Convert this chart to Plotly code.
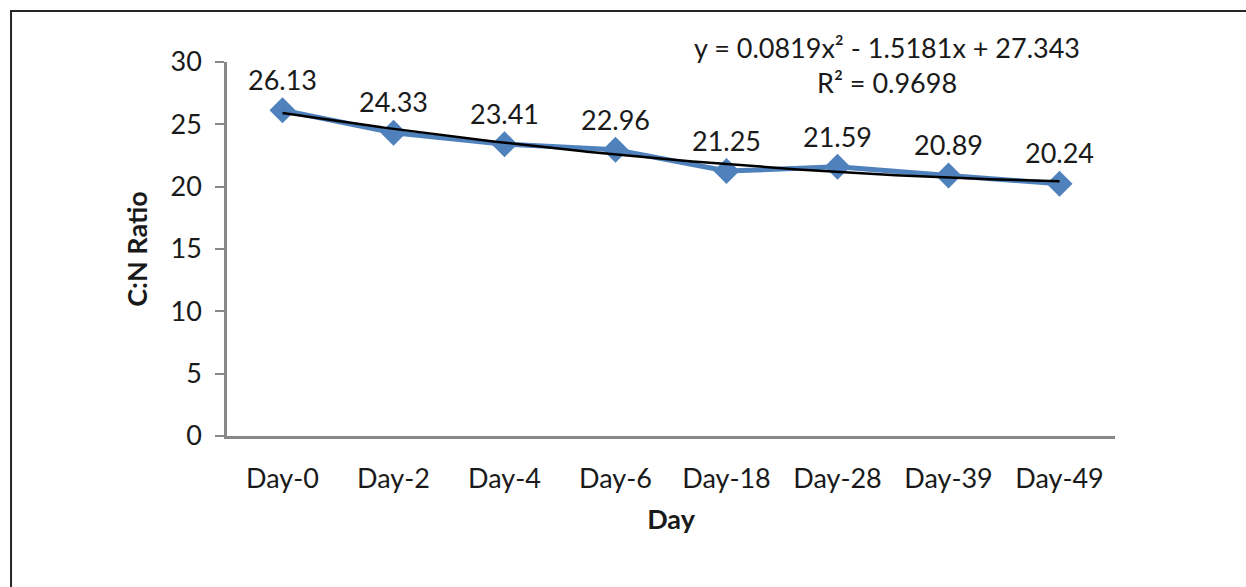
import numpy as np
import plotly.graph_objects as go

# C:N ratio over the composting period
days = ["Day-0", "Day-2", "Day-4", "Day-6", "Day-18", "Day-28", "Day-39", "Day-49"]
cn_ratio = [26.13, 24.33, 23.41, 22.96, 21.25, 21.59, 20.89, 20.24]

# second-order polynomial trendline (x = 1..n), as stated on the chart
trend_coef = [0.0819, -1.5181, 27.343]
r_squared = 0.9698

y_ticks = [0, 5, 10, 15, 20, 25, 30]

FONT = "Lato"
TEXT = "#1a1a1a"
AXIS = "#878787"

xs = np.linspace(1, len(days), 200)
trend_y = np.polyval(trend_coef, xs)
# map trend x (1..n) onto category positions (0..n-1)
trend_x = xs - 1

fig = go.Figure()

fig.add_trace(go.Scatter(
    x=list(range(len(days))), y=cn_ratio,
    mode="lines+markers+text",
    line=dict(color="#4F81BD", width=5),
    marker=dict(symbol="diamond", size=20, color="#4F81BD"),
    text=[f"{v:.2f}" for v in cn_ratio],
    textposition="top center",
    textfont=dict(family=FONT, size=27, color=TEXT),
    cliponaxis=False,
    showlegend=False,
    hoverinfo="skip",
))

fig.add_trace(go.Scatter(
    x=trend_x, y=trend_y,
    mode="lines",
    line=dict(color="#000000", width=2.5),
    showlegend=False,
    hoverinfo="skip",
))

a, b, c = trend_coef
eq_line1 = f"y = {a:.4f}x² - {abs(b):.4f}x + {c:.3f}"
eq_line2 = f"R² = {r_squared:.4f}"
for txt, ypos in [(eq_line1, 1.04), (eq_line2, 0.944)]:
    fig.add_annotation(
        x=0.743, y=ypos, xref="paper", yref="paper",
        text=txt, showarrow=False, align="center",
        font=dict(family=FONT, size=27, color=TEXT),
        xanchor="center", yanchor="middle",
    )

# outer chart frame
fig.add_shape(
    type="rect", xref="paper", yref="paper",
    x0=-0.2432, y0=-0.45, x1=1.17, y1=1.1364,
    line=dict(color="#262626", width=2),
    fillcolor="rgba(0,0,0,0)", layer="below",
)

fig.update_layout(
    width=1246, height=587,
    margin=dict(l=227, r=131, t=62, b=151),
    paper_bgcolor="white", plot_bgcolor="white",
    font=dict(family=FONT, color=TEXT),
    xaxis=dict(
        tickmode="array",
        tickvals=list(range(len(days))),
        ticktext=days,
        range=[-0.5, len(days) - 0.5],
        showline=True, linecolor=AXIS, linewidth=2.5,
        showgrid=False, zeroline=False,
        ticks="",
        tickfont=dict(family=FONT, size=27, color=TEXT),
        ticklabelstandoff=17,
        title=dict(text="<b>Day</b>", font=dict(family=FONT, size=27, color=TEXT), standoff=17),
    ),
    yaxis=dict(
        range=[0, 30],
        tickvals=y_ticks,
        showline=True, linecolor=AXIS, linewidth=2.5,
        showgrid=False, zeroline=False,
        ticks="outside", ticklen=9, tickcolor=AXIS, tickwidth=2,
        tickfont=dict(family=FONT, size=27, color=TEXT),
        ticklabelstandoff=8,
        title=dict(text="<b>C:N Ratio</b>", font=dict(family=FONT, size=27, color=TEXT), standoff=16),
    ),
)

fig.write_html("out.html")
